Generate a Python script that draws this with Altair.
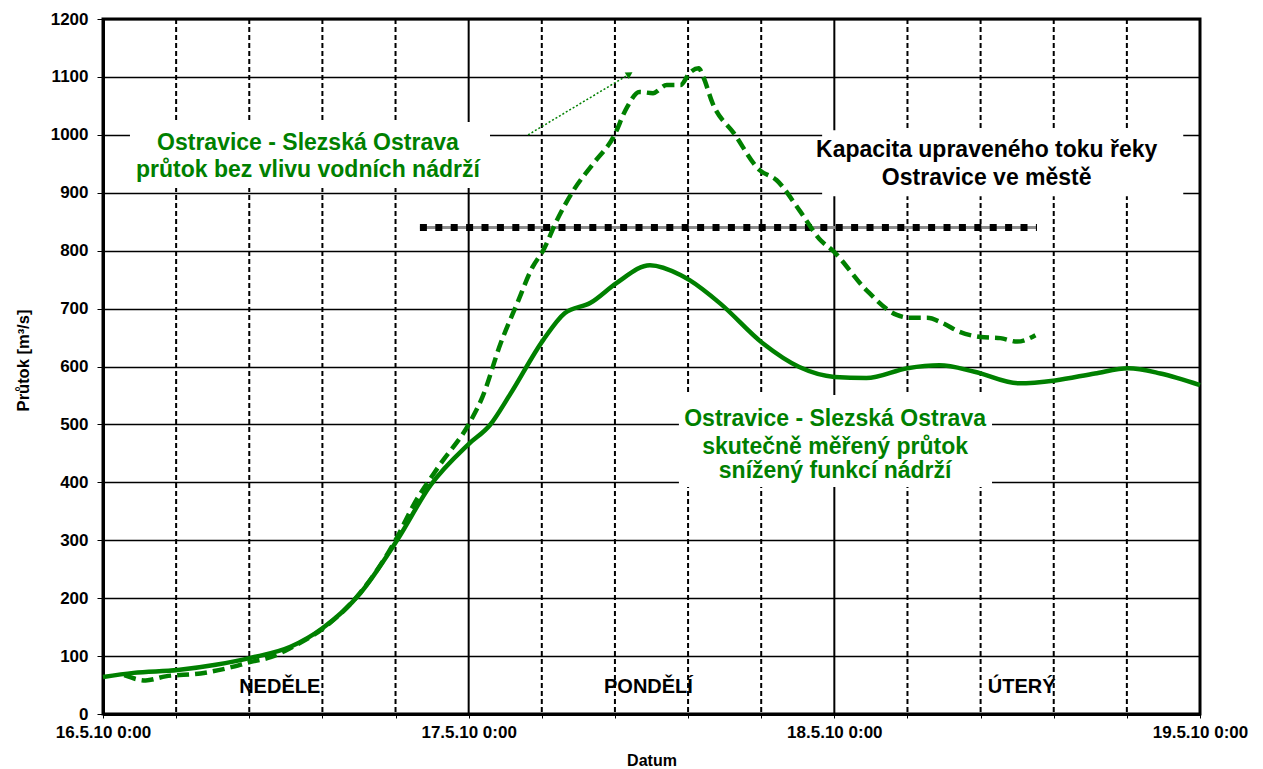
import altair as alt
import pandas as pd

FONT = "Liberation Sans"
GREEN = "#008000"

# hours since 16.5.10 0:00
measured_hours = [0, 2.0, 4.9, 7.4, 9.7, 12.3, 14.4, 16.9, 19.3, 21.5, 24.0, 25.4, 26.7, 28.9, 30.3, 32.0, 33.7,
                  35.9, 37.9, 38.5, 40.5, 43.3, 45.7, 48.0, 50.1, 52.8, 54.9, 57.2, 60.1, 62.5, 65.1, 67.3, 69.4, 72.0]
measured_flow = [64, 71, 76, 85, 97, 116, 148, 209, 300, 395, 466, 499, 551, 646, 692, 710, 744,
                 775, 758, 749, 709, 640, 599, 582, 580, 597, 602, 591, 571, 576, 588, 597, 588, 568]

natural_hours = [1.4, 2.8, 4.1, 6.4, 8.3, 9.7, 11.0, 12.3, 14.4, 16.9, 19.3, 20.3, 22.1, 24.0, 24.9, 26.1,
                 27.2, 28.2, 28.9, 29.8, 30.9, 32.2, 33.5, 34.4, 35.2, 36.1, 37.0, 37.9, 38.5, 39.1, 39.4,
                 40.0, 41.4, 43.1, 44.2, 45.7, 47.1, 47.9, 50.1, 52.1, 53.0, 54.1, 55.1, 56.2, 57.6, 58.9,
                 60.0, 61.2]
natural_flow = [67, 58, 65, 70, 80, 90, 98, 114, 147, 210, 305, 357, 430, 500, 547, 640,
                710, 772, 801, 853, 905, 951, 996, 1048, 1074, 1072, 1086, 1086, 1107, 1115, 1100,
                1055, 1003, 939, 922, 870, 818, 800, 732, 689, 684, 684, 675, 660, 651, 649,
                643, 654]

capacity_hours = [20.8, 61.3]
capacity_flow = [840, 840]

day_hours = [0, 24, 48, 72]
day_labels = ["16.5.10 0:00", "17.5.10 0:00", "18.5.10 0:00", "19.5.10 0:00"]
sub_hours = [4.8, 9.6, 14.4, 19.2, 28.8, 33.6, 38.4, 43.2, 52.8, 57.6, 62.4, 67.2]
all_ticks = sorted(day_hours + sub_hours)
y_ticks = list(range(0, 1201, 100))

weekday_names = ["NEDĚLE", "PONDĚLÍ", "ÚTERÝ"]
weekday_x = [11.6, 35.8, 60.3]
weekday_y = [47, 47, 47]

note_lines = ["Ostravice - Slezská Ostrava", "průtok bez vlivu vodních nádrží",
              "Kapacita upraveného toku řeky", "Ostravice ve městě",
              "Ostravice - Slezská Ostrava", "skutečně měřený průtok", "snížený funkcí nádrží"]
note_x = [13.45, 13.45, 58.0, 58.0, 48.05, 48.05, 48.05]
note_y = [986, 939, 974, 926, 509, 461, 420]
note_color = [GREEN, GREEN, "black", "black", GREEN, GREEN, GREEN]

box_x = [1.77, 47.2, 37.8]
box_x2 = [25.4, 70.9, 58.35]
box_y = [908, 894, 392]
box_y2 = [1022, 1008, 551]

arrow_x = [27.9, 34.5]
arrow_y = [1000, 1104]

measured = pd.DataFrame({"h": measured_hours, "q": measured_flow})
natural = pd.DataFrame({"h": natural_hours, "q": natural_flow})
capacity = pd.DataFrame({"h": capacity_hours, "q": capacity_flow})
days_df = pd.DataFrame({"h": day_hours})
subs_df = pd.DataFrame({"h": sub_hours})
weekdays = pd.DataFrame({"name": weekday_names, "h": weekday_x, "q": weekday_y})
notes = pd.DataFrame({"t": note_lines, "h": note_x, "q": note_y, "c": note_color})
boxes = pd.DataFrame({"h": box_x, "h2": box_x2, "q": box_y, "q2": box_y2})
arrow = pd.DataFrame({"h": arrow_x, "q": arrow_y})
arrow_head = arrow.tail(1)

label_array = "[" + ",".join("'" + s + "'" for s in day_labels) + "]"
x_scale = alt.Scale(domain=[0, 72], nice=False, zero=False)
y_scale = alt.Scale(domain=[0, 1200], nice=False)

x_axis = alt.Axis(
    values=all_ticks, title="Datum", grid=False,
    labelExpr=f"datum.value % 24 == 0 ? {label_array}[datum.value / 24] : ''",
    labelFont=FONT, labelFontSize=17, labelFontWeight="bold", labelColor="black",
    labelPadding=6, tickSize=4, tickColor="black", tickWidth=1,
    domainColor="black", domainWidth=3, labelOverlap=False, labelFlush=False,
    titleFont=FONT, titleFontSize=16, titleFontWeight="bold", titleColor="black", titlePadding=12)
y_axis = alt.Axis(
    values=y_ticks, title="Průtok [m³/s]", grid=True, gridColor="black", gridWidth=1.3, gridOpacity=1,
    format="d",
    labelFont=FONT, labelFontSize=17, labelFontWeight="bold", labelColor="black",
    labelPadding=9, tickSize=6, tickColor="black", tickWidth=1,
    domainColor="black", domainWidth=3,
    titleFont=FONT, titleFontSize=16.5, titleFontWeight="bold", titleColor="black", titlePadding=19,
    titleY=341)

X = alt.X("h:Q", scale=x_scale, axis=x_axis)
Y = alt.Y("q:Q", scale=y_scale, axis=y_axis)

sub_rules = alt.Chart(subs_df).mark_rule(color="black", strokeWidth=2, strokeDash=[5, 3]).encode(x=X)
day_rules = alt.Chart(days_df).mark_rule(color="black", strokeWidth=2).encode(x=X)

box_layer = alt.Chart(boxes).mark_rect(fill="white").encode(x=X, x2="h2:Q", y=Y, y2="q2:Q")

cap_grey = alt.Chart(capacity).mark_line(color="#8c8c8c", strokeWidth=3).encode(x=X, y=Y)
cap_sq = alt.Chart(capacity).mark_line(color="black", strokeWidth=7, strokeDash=[7, 8.4],
                                       strokeCap="butt").encode(x=X, y=Y)

nat_line = alt.Chart(natural).mark_line(color=GREEN, strokeWidth=4.5, strokeDash=[12, 6],
                                        interpolate="monotone").encode(x=X, y=Y)
meas_line = alt.Chart(measured).mark_line(color=GREEN, strokeWidth=4.5,
                                          interpolate="monotone").encode(x=X, y=Y)

arrow_line = alt.Chart(arrow).mark_line(color=GREEN, strokeWidth=1.5, strokeDash=[2, 2]).encode(x=X, y=Y)
arrow_tip = alt.Chart(arrow_head).mark_point(shape="triangle", filled=True, color=GREEN, size=60,
                                             angle=58, opacity=1).encode(x=X, y=Y)

note_text = alt.Chart(notes).mark_text(font=FONT, fontSize=23, fontWeight="bold", align="center",
                                       baseline="middle").encode(
    x=X, y=Y, text="t:N", color=alt.Color("c:N", scale=None))
weekday_text = alt.Chart(weekdays).mark_text(font=FONT, fontSize=20, fontWeight="bold", align="center",
                                             baseline="middle", color="black").encode(
    x=X, y=Y, text="name:N")

chart = alt.layer(
    sub_rules, day_rules, box_layer, cap_grey, cap_sq, nat_line, meas_line,
    arrow_line, arrow_tip, note_text, weekday_text
).properties(
    width=1097, height=695,
    autosize=alt.AutoSizeParams(type="none"),
    padding={"left": 95, "top": 11, "right": 55, "bottom": 54},
    background="white",
).configure_view(stroke="black", strokeWidth=3)

chart.save("out.html", embed_options={"renderer": "svg", "actions": False})
